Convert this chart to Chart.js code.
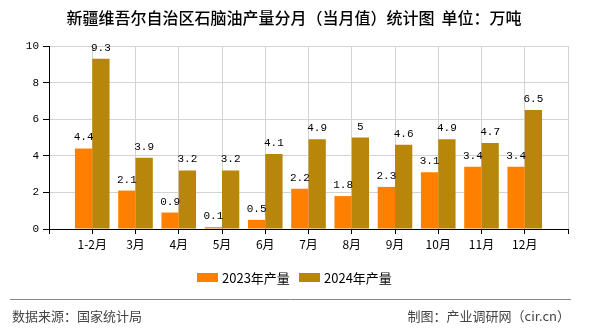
<!doctype html>
<html lang="zh">
  <head>
    <meta charset="utf-8" />
    <title>新疆维吾尔自治区石脑油产量分月（当月值）统计图</title>
    <style>
      html, body { margin: 0; padding: 0; background: #fff; }
      .chart-container { width: 590px; height: 330px; }
    </style>
  </head>
  <body>
    <div class="chart-container">
      <canvas id="naphtha" width="590" height="330"></canvas>
    </div>

    <script src="https://cdn.jsdelivr.net/npm/chart.js@4.4.1/dist/chart.umd.min.js"></script>
    <script>
      const months = ["1-2月", "3月", "4月", "5月", "6月", "7月", "8月", "9月", "10月", "11月", "12月"];
      const output2023 = [4.4, 2.1, 0.9, 0.1, 0.5, 2.2, 1.8, 2.3, 3.1, 3.4, 3.4];
      const output2024 = [9.3, 3.9, 3.2, 3.2, 4.1, 4.9, 5, 4.6, 4.9, 4.7, 6.5];
      const yTicks = [0, 2, 4, 6, 8, 10];

      const title = "新疆维吾尔自治区石脑油产量分月（当月值）统计图  单位：万吨";
      const source = "数据来源：国家统计局";
      const maker = "制图：产业调研网（cir.cn）";

      // empty slots at both ends so the months sit one step in from the axis ends
      const pad = (arr) => [null, ...arr, null];

      const cjk = '"Noto Sans CJK SC", "Noto Sans", sans-serif';

      const extras = {
        id: "extras",
        afterDatasetsDraw(chart) {
          const ctx = chart.ctx;
          ctx.save();
          ctx.font = '11px "Liberation Mono", monospace';
          ctx.fillStyle = "#000";
          ctx.textAlign = "center";
          ctx.textBaseline = "alphabetic";
          chart.data.datasets.forEach((ds, i) => {
            chart.getDatasetMeta(i).data.forEach((bar, j) => {
              const v = ds.data[j];
              if (v === null) return;
              ctx.fillText(String(v), bar.x, bar.y - 8);
            });
          });
          ctx.restore();
        },
        afterDraw(chart) {
          const ctx = chart.ctx;
          ctx.save();
          ctx.fillStyle = "#000";
          ctx.font = "500 16px " + cjk;
          ctx.textAlign = "center";
          ctx.textBaseline = "middle";
          ctx.fillText(title, 294, 18);

          // legend
          ctx.font = "13px " + cjk;
          ctx.textAlign = "left";
          let x = 197;
          chart.data.datasets.forEach((ds) => {
            ctx.fillStyle = ds.backgroundColor;
            ctx.fillRect(x, 273, 21, 9);
            ctx.fillStyle = "#000";
            ctx.fillText(ds.label, x + 25, 278);
            x += 102;
          });

          ctx.strokeStyle = "#888";
          ctx.lineWidth = 1;
          ctx.beginPath();
          ctx.moveTo(10, 299.5);
          ctx.lineTo(571, 299.5);
          ctx.stroke();

          ctx.fillStyle = "#444";
          ctx.font = "13px " + cjk;
          ctx.textAlign = "left";
          ctx.fillText(source, 12, 316);
          ctx.textAlign = "right";
          ctx.fillText(maker, 570, 316);
          ctx.restore();
        },
      };

      new Chart(document.getElementById("naphtha"), {
        type: "bar",
        data: {
          labels: pad(months).map((m) => m || ""),
          datasets: [
            {
              label: "2023年产量",
              data: pad(output2023),
              backgroundColor: "#ff8000",
              barPercentage: 1,
              categoryPercentage: 0.8,
            },
            {
              label: "2024年产量",
              data: pad(output2024),
              backgroundColor: "#b8860b",
              barPercentage: 1,
              categoryPercentage: 0.8,
            },
          ],
        },
        options: {
          responsive: false,
          animation: false,
          devicePixelRatio: 1,
          layout: { padding: { top: 46, right: 22, bottom: 71, left: 0 } },
          plugins: {
            legend: { display: false },
            title: { display: false },
            tooltip: { enabled: false },
          },
          scales: {
            x: {
              offset: false,
              afterFit: (s) => { s.height = 30; },
              grid: { offset: false, color: "#d3d3d3", tickColor: "#000", tickLength: 5 },
              border: { color: "#000" },
              ticks: {
                color: "#000",
                font: { family: cjk, size: 12 },
                maxRotation: 0,
                autoSkip: false,
                padding: 3,
              },
            },
            y: {
              min: yTicks[0],
              max: yTicks[yTicks.length - 1],
              afterFit: (s) => { s.width = 49; },
              afterBuildTicks: (s) => { s.ticks = yTicks.map((v) => ({ value: v })); },
              grid: { color: "#d3d3d3", tickColor: "#000", tickLength: 6 },
              border: { color: "#000" },
              ticks: {
                color: "#000",
                font: { family: '"Liberation Mono", monospace', size: 11 },
                padding: 4,
              },
            },
          },
        },
        plugins: [extras],
      });
    </script>
  </body>
</html>
